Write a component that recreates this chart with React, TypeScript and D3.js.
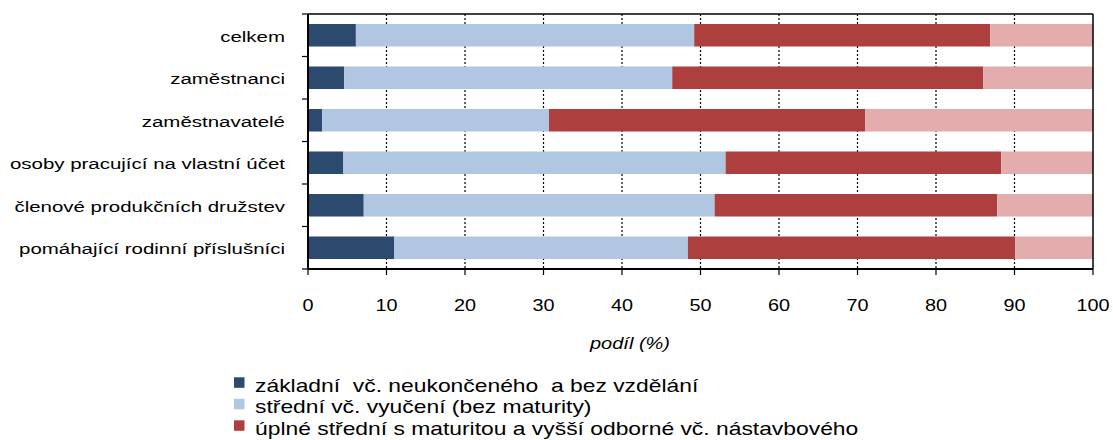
import React from "react";
import * as d3 from "d3";

const categories = [
  "celkem",
  "zaměstnanci",
  "zaměstnavatelé",
  "osoby pracující na vlastní účet",
  "členové produkčních družstev",
  "pomáhající rodinní příslušníci",
];
const seriesNames = [
  "základní  vč. neukončeného  a bez vzdělání",
  "střední vč. vyučení (bez maturity)",
  "úplné střední s maturitou a vyšší odborné vč. nástavbového",
  "vysokoškolské",
];
const zakladni = [6.1, 4.6, 1.8, 4.5, 7.1, 11.0];
const stredni = [43.1, 41.8, 28.9, 48.7, 44.7, 37.4];
const uplne = [37.7, 39.6, 40.3, 35.1, 36.0, 41.7];
const vysoke = [13.1, 14.0, 29.0, 11.7, 12.2, 9.9];
const xTicks = [0, 10, 20, 30, 40, 50, 60, 70, 80, 90, 100];
const colors = ["#2B4A6E", "#B0C6E1", "#AD403F", "#E3ADAD"];

const W = 1113;
const H = 440;
const left = 308;
const right = 1093;
const top = 14;
const bottom = 269;
const font = "'Liberation Sans', Arial, sans-serif";

export default function App() {
  const x = d3.scaleLinear().domain([0, 100]).range([left, right]);
  const y = d3.scaleBand<string>().domain(categories).range([top, bottom]).paddingInner(0.47).paddingOuter(0.235);
  const series = [zakladni, stredni, uplne, vysoke];
  const rows = categories.map((c, i) => {
    const o: any = { cat: c };
    series.forEach((s, k) => (o["s" + k] = s[i]));
    return o;
  });
  const stack = d3.stack<any>().keys(["s0", "s1", "s2", "s3"])(rows);
  const step = (bottom - top) / categories.length;

  return (
    <svg width={W} height={H} style={{ display: "block", position: "absolute", left: 0, top: 0 }} fontFamily={font}>
      <rect x={0} y={0} width={W} height={H} fill="#fff" />
      {/* grid */}
      {xTicks.slice(1, -1).map((t) => (
        <line key={"g" + t} x1={x(t)} x2={x(t)} y1={top} y2={bottom} stroke="#000" strokeWidth={1.2} strokeDasharray="2,2" />
      ))}
      {/* bars */}
      {stack.map((layer, k) => (
        <g key={"l" + k} fill={colors[k]}>
          {layer.map((d: any, i: number) => {
            const x0 = x(Math.min(d[0], 100));
            const x1 = x(Math.min(d[1], 100));
            return <rect key={i} x={x0} y={y(categories[i])!} width={Math.max(0, x1 - x0)} height={y.bandwidth()} />;
          })}
        </g>
      ))}
      {/* frame */}
      <line x1={left} x2={right} y1={top} y2={top} stroke="#000" strokeWidth={1.5} />
      <line x1={right} x2={right} y1={top} y2={bottom} stroke="#000" strokeWidth={1.5} />
      <line x1={left} x2={right} y1={bottom} y2={bottom} stroke="#000" strokeWidth={2} />
      <line x1={left} x2={left} y1={top} y2={bottom} stroke="#000" strokeWidth={2} />
      {/* y ticks */}
      {d3.range(categories.length + 1).map((i) => (
        <line key={"yt" + i} x1={left - 6} x2={left} y1={top + i * step} y2={top + i * step} stroke="#000" strokeWidth={1.2} />
      ))}
      {/* x ticks */}
      {xTicks.map((t) => (
        <g key={"xt" + t}>
          <line x1={x(t)} x2={x(t)} y1={bottom} y2={bottom + 6} stroke="#000" strokeWidth={1.2} />
          <text transform={`translate(${x(t)},311) scale(1.24,1)`} textAnchor="middle" fontSize={16} fill="#000">{t}</text>
        </g>
      ))}
      {/* category labels */}
      {categories.map((c) => (
        <text key={c} transform={`translate(285,${y(c)! + y.bandwidth() / 2 + 6.5}) scale(1.32,1)`} textAnchor="end" fontSize={15.5} fill="#000">{c}</text>
      ))}
      <text transform="translate(630,349) scale(1.25,1)" textAnchor="middle" fontSize={16} fontStyle="italic" fill="#000">podíl (%)</text>
      {/* legend */}
      {seriesNames.slice(0, 3).map((n, k) => (
        <g key={"lg" + k}>
          <rect x={234} y={377.3 + k * 21.5} width={10.5} height={10.5} fill={colors[k]} />
          <text transform={`translate(255,${391.7 + k * 21.5}) scale(1.27,1)`} fontSize={18} fill="#000" style={{ whiteSpace: "pre" }}>{n}</text>
        </g>
      ))}
    </svg>
  );
}
